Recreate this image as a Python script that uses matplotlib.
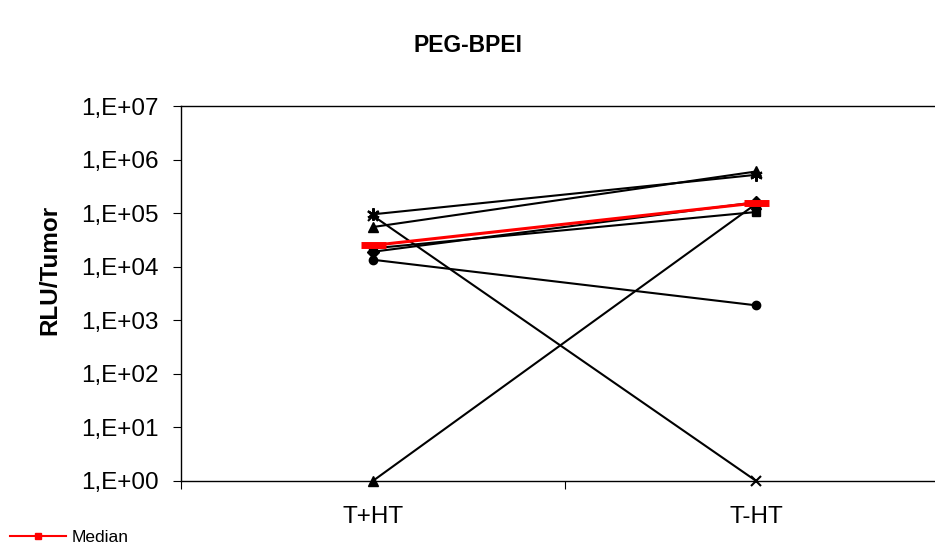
import numpy as np
import matplotlib.pyplot as plt
from matplotlib.ticker import FuncFormatter

plt.rcParams['font.family'] = ['Liberation Sans', 'DejaVu Sans']

categories = ['T+HT', 'T-HT']
series_diamond = [1.9e4, 1.6e5]
series_square = [2.2e4, 1.05e5]
series_triangle = [5.5e4, 6.0e5]
series_x = [9.0e4, 1.0]
series_star = [9.5e4, 5.2e5]
series_circle = [1.35e4, 1.9e3]
series_triangle2 = [1.0, 1.5e5]
median = [2.5e4, 1.55e5]

fig = plt.figure(figsize=(9.35, 5.55), dpi=100)
ax = fig.add_axes([181 / 935, 74 / 555, 767 / 935, 375 / 555])

x = np.array([0.5, 1.5])
kw = dict(color='black', lw=1.5, clip_on=False)
ax.plot(x, series_diamond, marker='D', ms=6, **kw)
ax.plot(x, series_square, marker='s', ms=6, **kw)
ax.plot(x, series_triangle, marker='^', ms=7, **kw)
ax.plot(x, series_x, marker='x', ms=7, mew=1.5, **kw)
ax.plot(x, series_star, marker=(6, 2, 0), ms=9, mew=1.5, **kw)
ax.plot(x, series_circle, marker='o', ms=6, **kw)
ax.plot(x, series_triangle2, marker='^', ms=7, **kw)
ax.plot(x, median, color='red', lw=2.2, marker='_', ms=18, mew=5, clip_on=False)

ax.set_yscale('log')
ax.set_ylim(1, 1e7)
ax.set_yticks([10.0 ** k for k in range(8)])
ax.minorticks_off()
ax.yaxis.set_major_formatter(FuncFormatter(lambda v, p: '1,E+%02d' % int(round(np.log10(v)))))

ax.set_xlim(0, 2)
ax.set_xticks([0, 1, 2])
ax.set_xticklabels(['', '', ''])
ax.set_xticks(x, minor=True)
ax.set_xticklabels(categories, minor=True)
ax.tick_params(axis='x', which='minor', length=0, pad=18, labelsize=17.5)
ax.tick_params(axis='x', which='major', length=6, direction='out')
ax.tick_params(axis='y', length=6, direction='out', labelsize=17.5, pad=10)

ax.spines['right'].set_visible(False)
for s in ['left', 'bottom', 'top']:
    ax.spines[s].set_linewidth(1.0)

fig.text(50 / 935, 1 - 270 / 555, 'RLU/Tumor', rotation=90, ha='center', va='center',
         fontsize=17.5, fontweight='bold')
fig.text(468 / 935, 1 - 46 / 555, 'PEG-BPEI', ha='center', va='center', fontsize=16.5, fontweight='bold')

fig.legend([plt.Line2D([], [], color='red', lw=1.5, marker='s', ms=4)], ['Median'],
           loc='lower left', bbox_to_anchor=(0.0, 0.0), frameon=False, fontsize=12.5,
           handlelength=3.2, handletextpad=0.3, borderaxespad=0.2)

fig.savefig('out.png', dpi=100)
